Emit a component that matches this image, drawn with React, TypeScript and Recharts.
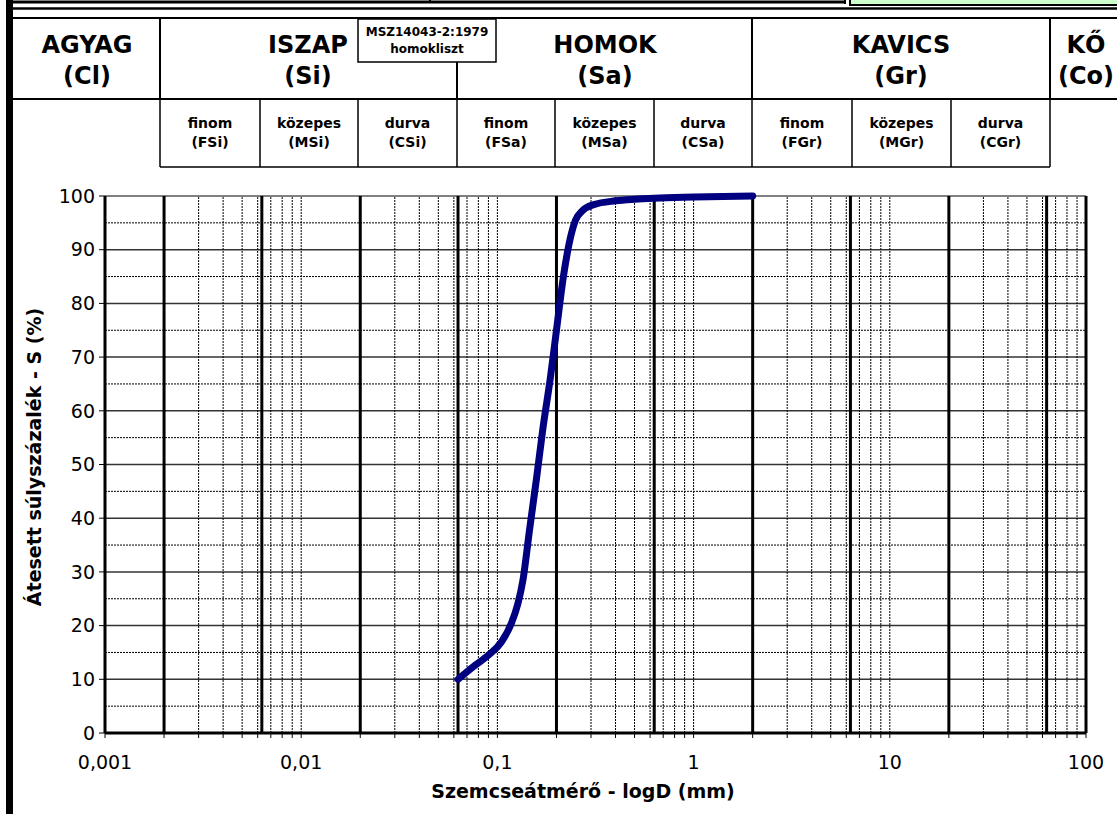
import React from 'react';
import { LineChart, Line, XAxis, YAxis, ReferenceLine } from 'recharts';

// ---- data ----
const grainSizes = [0.063, 0.075, 0.09, 0.105, 0.118, 0.127, 0.135, 0.146, 0.158, 0.171, 0.186, 0.2, 0.217, 0.239, 0.25, 0.27, 0.31, 0.4, 0.5, 0.63, 1, 2];
const passing = [10, 12.3, 14.5, 17, 20.5, 24, 28.5, 38, 47.2, 57, 66, 75, 85, 93.2, 95.5, 97.2, 98.4, 99.1, 99.4, 99.6, 99.8, 100];

const xDecadeTicks = [0.001, 0.01, 0.1, 1, 10, 100];
const xMinorTicks = [
  0.002, 0.003, 0.004, 0.005, 0.006, 0.007, 0.008, 0.009,
  0.02, 0.03, 0.04, 0.05, 0.06, 0.07, 0.08, 0.09,
  0.2, 0.3, 0.4, 0.5, 0.6, 0.7, 0.8, 0.9,
  2, 3, 4, 5, 6, 7, 8, 9,
  20, 30, 40, 50, 60, 70, 80, 90,
];
const fractionBoundaries = [0.002, 0.0063, 0.02, 0.063, 0.2, 0.63, 2, 6.3, 20, 63];
const minorGridX = [
  0.003, 0.004, 0.005, 0.006, 0.007, 0.008, 0.009, 0.01,
  0.03, 0.04, 0.05, 0.06, 0.07, 0.08, 0.09, 0.1,
  0.3, 0.4, 0.5, 0.6, 0.7, 0.8, 0.9, 1,
  3, 4, 5, 6, 7, 8, 9, 10,
  30, 40, 50, 60, 70, 80, 90,
];
const yTicks = [0, 10, 20, 30, 40, 50, 60, 70, 80, 90, 100];
const yMajorGrid = [10, 20, 30, 40, 50, 60, 70, 80, 90];
const yMinorGrid = [5, 15, 25, 35, 45, 55, 65, 75, 85, 95];

const mainFractions = [
  { x0: 13, x1: 160, l1: 'AGYAG', l2: '(Cl)', cx: 87 },
  { x0: 160, x1: 457, l1: 'ISZAP', l2: '(Si)', cx: 308 },
  { x0: 457, x1: 752, l1: 'HOMOK', l2: '(Sa)', cx: 605 },
  { x0: 752, x1: 1050, l1: 'KAVICS', l2: '(Gr)', cx: 901 },
  { x0: 1050, x1: 1117, l1: 'KŐ', l2: '(Co)', cx: 1086 },
];
const subEdges = [160, 260, 358, 457, 555, 654, 752, 852, 951, 1050];
const subNames = ['finom', 'közepes', 'durva', 'finom', 'közepes', 'durva', 'finom', 'közepes', 'durva'];
const subCodes = ['(FSi)', '(MSi)', '(CSi)', '(FSa)', '(MSa)', '(CSa)', '(FGr)', '(MGr)', '(CGr)'];

const data = grainSizes.map((d, i) => ({ d, p: passing[i] }));
const allXTicks = [...xDecadeTicks, ...xMinorTicks].sort((a, b) => a - b);
const FONT = 'DejaVu Sans';

const fmtX = (v: number) => (xDecadeTicks.includes(v) ? String(v).replace('.', ',') : '');

function Header() {
  return (
    <svg width={1117} height={814} style={{ position: 'absolute', left: 0, top: 0, pointerEvents: 'none' }} fontFamily={FONT}>
      {/* left frame bar */}
      <rect x={6} y={0} width={7} height={814} fill="#000" />
      {/* top strip */}
      <line x1={13} y1={2} x2={845} y2={2} stroke="#000" strokeWidth={3} />
      <line x1={430} y1={0} x2={430} y2={3} stroke="#000" strokeWidth={2} />
      <line x1={845} y1={0} x2={845} y2={4} stroke="#000" strokeWidth={2} />
      <rect x={850} y={-3} width={280} height={8} fill="#ccffcc" stroke="#000" strokeWidth={2} />
      <line x1={13} y1={8.5} x2={1117} y2={8.5} stroke="#000" strokeWidth={2.5} />
      {/* header row 1 */}
      <line x1={13} y1={18} x2={1117} y2={18} stroke="#000" strokeWidth={2} />
      <line x1={13} y1={99} x2={1117} y2={99} stroke="#000" strokeWidth={2} />
      <line x1={160} y1={18} x2={160} y2={99} stroke="#000" strokeWidth={2} />
      <line x1={457} y1={62} x2={457} y2={99} stroke="#000" strokeWidth={2} />
      <line x1={752} y1={18} x2={752} y2={99} stroke="#000" strokeWidth={2} />
      <line x1={1050} y1={18} x2={1050} y2={99} stroke="#000" strokeWidth={2} />
      {mainFractions.map((f) => (
        <g key={f.l1}>
          <text x={f.cx} y={53} textAnchor="middle" fontSize={24} fontWeight="bold">{f.l1}</text>
          <text x={f.cx} y={84} textAnchor="middle" fontSize={24} fontWeight="bold">{f.l2}</text>
        </g>
      ))}
      {/* MSZ box */}
      <rect x={358} y={19} width={138} height={43} fill="#fff" stroke="#000" strokeWidth={1.5} />
      <text x={427} y={36} textAnchor="middle" fontSize={12} fontWeight="bold">MSZ14043-2:1979</text>
      <text x={427} y={53} textAnchor="middle" fontSize={12} fontWeight="bold">homokliszt</text>
      {/* sub row */}
      <line x1={160} y1={167} x2={1050} y2={167} stroke="#000" strokeWidth={1.5} />
      {subEdges.map((x) => (
        <line key={x} x1={x} y1={99} x2={x} y2={167} stroke="#000" strokeWidth={1.5} />
      ))}
      {subNames.map((n, i) => {
        const cx = (subEdges[i] + subEdges[i + 1]) / 2;
        return (
          <g key={i}>
            <text x={cx} y={128} textAnchor="middle" fontSize={14} fontWeight="bold">{n}</text>
            <text x={cx} y={147} textAnchor="middle" fontSize={14} fontWeight="bold">{subCodes[i]}</text>
          </g>
        );
      })}
      {/* axis titles */}
      <text x={583} y={798} textAnchor="middle" fontSize={19} fontWeight="bold">Szemcseátmérő - logD (mm)</text>
      <text x={0} y={0} transform="translate(41 457) rotate(-90)" textAnchor="middle" fontSize={19} fontWeight="bold">Átesett súlyszázalék - S (%)</text>
    </svg>
  );
}

export default function App() {
  return (
    <div style={{ position: 'absolute', left: 0, top: 0, width: 1117, height: 814, background: '#fff', overflow: 'hidden', fontFamily: FONT }}>
      <div style={{ position: 'absolute', left: 0, top: 0 }}>
        <LineChart width={1117} height={814} data={data} margin={{ top: 196, right: 31, bottom: 51, left: 0 }}>
          <XAxis
            dataKey="d"
            type="number"
            scale="log"
            domain={[0.001, 100]}
            allowDataOverflow
            ticks={allXTicks}
            interval={0}
            tickFormatter={fmtX}
            height={30}
            tickSize={5}
            tickMargin={18}
            axisLine={{ stroke: '#000', strokeWidth: 3 }}
            tickLine={{ stroke: '#000', strokeWidth: 1 }}
            tick={{ fill: '#000', fontSize: 19, fontFamily: FONT }}
          />
          <YAxis
            type="number"
            domain={[0, 100]}
            ticks={yTicks}
            interval={0}
            width={105}
            tickSize={6}
            tickMargin={4}
            axisLine={{ stroke: '#000', strokeWidth: 3 }}
            tickLine={{ stroke: '#000', strokeWidth: 1 }}
            tick={{ fill: '#000', fontSize: 19, fontFamily: FONT }}
          />
          {yMinorGrid.map((v) => (
            <ReferenceLine key={'ym' + v} y={v} stroke="#000" strokeWidth={1} strokeDasharray="2 1" />
          ))}
          {yMajorGrid.map((v) => (
            <ReferenceLine key={'yM' + v} y={v} stroke="#333" strokeWidth={1.5} />
          ))}
          <ReferenceLine y={100} stroke="#808080" strokeWidth={2} />
          {minorGridX.map((v) => (
            <ReferenceLine key={'xm' + v} x={v} stroke="#000" strokeWidth={1} strokeDasharray="2 1" />
          ))}
          {fractionBoundaries.map((v) => (
            <ReferenceLine key={'xb' + v} x={v} stroke="#000" strokeWidth={3} />
          ))}
          <ReferenceLine x={100} stroke="#000" strokeWidth={3} />
          <Line
            type="monotone"
            dataKey="p"
            stroke="#000080"
            strokeWidth={7}
            strokeLinecap="round"
            strokeLinejoin="round"
            dot={false}
            activeDot={false}
            isAnimationActive={false}
          />
        </LineChart>
      </div>
      <Header />
    </div>
  );
}
